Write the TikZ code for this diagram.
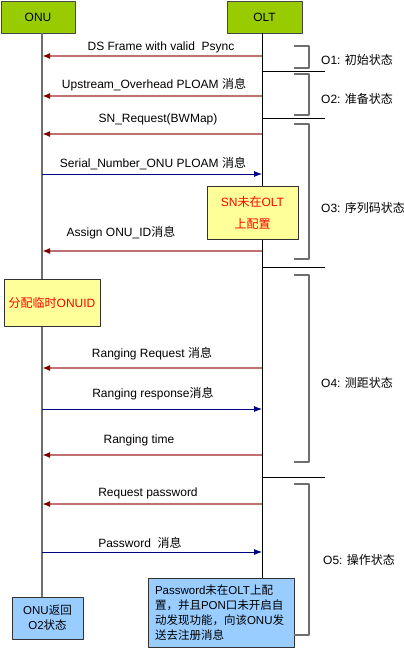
\documentclass[tikz,border=0pt]{standalone}
\usepackage{fontspec}
\setmainfont{Liberation Sans}
\newfontfamily\cjk{Noto Sans CJK SC}
\newcommand{\zh}[1]{{\cjk #1}}
\usetikzlibrary{arrows.meta}
\definecolor{hdrgreen}{RGB}{153,204,0}
\definecolor{noteyel}{RGB}{255,255,153}
\definecolor{noteblu}{RGB}{153,204,255}
\definecolor{roseline}{RGB}{192,112,112}
\definecolor{msgred}{RGB}{128,0,0}
\definecolor{msgblue}{RGB}{0,0,128}
\definecolor{brkgray}{RGB}{110,110,110}
\begin{document}
\begin{tikzpicture}[x=1pt,y=-1pt,line join=round,
	font=\fontsize{12}{14}\selectfont,
	hdr/.style={draw={rgb,255:red,70;green,70;blue,70},fill=hdrgreen,line width=0.8pt,minimum height=32pt,inner sep=0pt},
	tolu/.style={draw=roseline,line width=1.6pt,-{Latex[length=8pt,width=6pt,color=msgred]}},
	tolt/.style={draw=msgblue,line width=0.8pt,-{Latex[length=8pt,width=6pt]}},
	lbl/.style={anchor=base,inner sep=0pt},
	stlbl/.style={anchor=base west,inner sep=0pt},
	brk/.style={draw=brkgray,line width=1.2pt},
	sep/.style={draw=black,line width=0.8pt},
	noteY/.style={draw={rgb,255:red,50;green,50;blue,50},fill=noteyel,line width=0.8pt,text=red,inner sep=0pt},
	noteB/.style={draw={rgb,255:red,50;green,50;blue,50},fill=noteblu,line width=0.8pt,inner sep=0pt,font=\fontsize{11.5}{15}\selectfont}]
	\useasboundingbox (0,0) rectangle (404,648);
	%Vẽ khung tiêu đề
	\node[hdr,minimum width=74pt] (onu) at (38,17) {ONU};
	\node[hdr,minimum width=75pt] (olt) at (264.5,17) {OLT};
	%Vẽ đường sống
	\coordinate (onuend) at (42,597);
	\coordinate (oltend) at (262,578);
	\draw[line width=1.4pt,brkgray] (onu.south -| onuend)--(onuend);
	\draw[line width=0.8pt] (olt.south -| oltend)--(oltend);
	%Các điểm trên đường sống
	\foreach \n/\y in {1/56,2/96,3/134,4/174,5/251,6/368,7/409,8/455,9/504,10/552}{
		\coordinate (u\n) at (42,\y);
		\coordinate (t\n) at (262,\y);
	}
	%Vẽ các thông điệp
	\foreach \n in {1,2,3,5,6,8,9} \draw[tolu] (t\n)--(u\n);
	\foreach \n in {4,7,10} \draw[tolt] (u\n)--(t\n);
	\node[lbl] (m1) at (161,50) {DS Frame with valid\ \ Psync};
	\node[lbl] (m2) at (154,88) {Upstream\_Overhead PLOAM \zh{消息}};
	\node[lbl] (m3) at (158,122) {SN\_Request(BWMap)};
	\node[lbl] (m4) at (153,167) {Serial\_Number\_ONU PLOAM \zh{消息}};
	\node[lbl] (m5) at (121,236) {Assign ONU\_ID\zh{消息}};
	\node[lbl] (m6) at (152,357) {Ranging Request \zh{消息}};
	\node[lbl] (m7) at (153,397) {Ranging response\zh{消息}};
	\node[lbl] (m8) at (139,443) {Ranging time};
	\node[lbl] (m9) at (148,496) {Request password};
	\node[lbl] (m10) at (140,547) {Password\ \ \zh{消息}};
	%Vẽ các ghi chú
	\node[noteY,minimum width=91pt,minimum height=53pt,align=center,font=\fontsize{12}{22}\selectfont] (snbox) at (252.5,212.5) {SN\zh{未在}OLT\\\zh{上配置}};
	\node[noteY,minimum width=96pt,minimum height=47pt] (idbox) at (52,302.5) {\zh{分配临时}ONUID};
	\node[noteB,minimum width=71pt,minimum height=42pt,align=center] (backbox) at (47.5,618) {ONU\zh{返回}\\O2\zh{状态}};
	\node[noteB,minimum width=146pt,minimum height=69pt,inner xsep=7pt,text width=132pt,align=left] (pwbox) at (221,612.5) {Password\zh{未在}OLT\zh{上配}\\\zh{置，并且}PON\zh{口未开启自}\\\zh{动发现功能，向该}ONU\zh{发}\\\zh{送去注册消息}};
	%Vẽ các trạng thái
	\foreach \y in {71,118,267,477} \draw[sep] (262,\y)--(325,\y);
	\foreach \a/\b in {46/68,74/115,124/259,275/462,484/635} \draw[brk] (294,\a)-|(309,\b)--(294,\b);
	\node[stlbl] (s1) at (321,64) {O1: \zh{初始状态}};
	\node[stlbl] (s2) at (321,103) {O2: \zh{准备状态}};
	\node[stlbl] (s3) at (321,212) {O3: \zh{序列码状态}};
	\node[stlbl] (s4) at (321,387) {O4: \zh{测距状态}};
	\node[stlbl] (s5) at (323,564) {O5: \zh{操作状态}};
\end{tikzpicture}
\end{document}
